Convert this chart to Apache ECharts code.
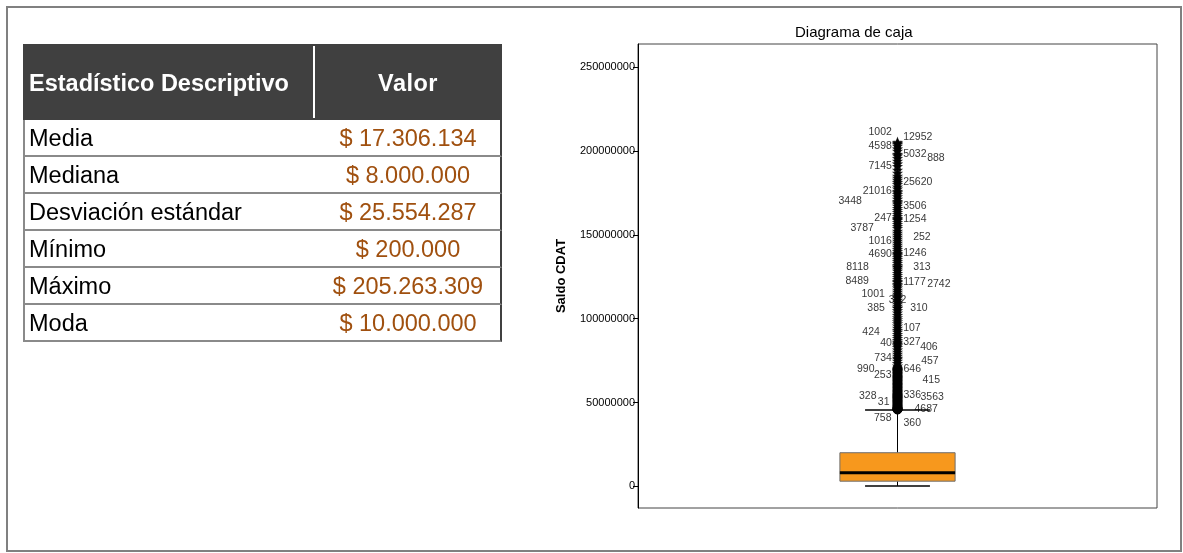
<!DOCTYPE html>
<html>
<head>
<meta charset="utf-8">
<title>Saldo CDAT</title>
<script src="https://cdn.jsdelivr.net/npm/echarts@6/dist/echarts.min.js"></script>
<style>
  html, body { margin: 0; padding: 0; background: #fff; }
  #page { position: relative; width: 1183px; height: 553px; overflow: hidden; font-family: "Liberation Sans", Arial, sans-serif; }
  #chart { position: absolute; left: 0; top: 0; width: 1183px; height: 553px; }
  #frame { position: absolute; left: 6px; top: 6px; width: 1172px; height: 542px; border: 2px solid #808080; pointer-events: none; }
  #stats { position: absolute; left: 23px; top: 44px; width: 479px; }
  #stats .hdr { position: relative; height: 76px; background: #404040; color: #fff; font-weight: bold; font-size: 23.5px; }
  #stats .hdr .c1 { position: absolute; left: 6px; top: 0; line-height: 78px; white-space: nowrap; }
  #stats .hdr .c2 { position: absolute; left: 291px; width: 188px; top: 0; line-height: 78px; text-align: center; letter-spacing: 0.5px; }
  #stats .hdr .sep { position: absolute; left: 290px; top: 2px; width: 2px; height: 72px; background: #fff; }
  #stats .row { position: relative; box-sizing: border-box; height: 37px; border-left: 2px solid #8a8a8a; border-right: 2px solid #404040; border-bottom: 2px solid #8a8a8a; font-size: 23.5px; }
  #stats .row .c1 { position: absolute; left: 4px; top: 0; line-height: 36px; color: #000; white-space: nowrap; }
  #stats .row .c2 { position: absolute; left: 289px; width: 188px; top: 0; line-height: 36px; text-align: center; color: #A0500F; white-space: nowrap; }
</style>
</head>
<body>
<div id="page">
  <div id="chart"></div>
  <div id="stats"></div>
  <div id="frame"></div>
</div>
<script>
// Descriptive statistics shown in the table
const statHeader = ['Estadístico Descriptivo', 'Valor'];
const statNames = ['Media', 'Mediana', 'Desviación estándar', 'Mínimo', 'Máximo', 'Moda'];
const statValues = [17306134, 8000000, 25554287, 200000, 205263309, 10000000];

// Box summary: minimum, Q1, median, Q3, upper whisker end
const categories = ['Saldo CDAT'];
const boxSummary = [200000, 3000000, 8000000, 20000000, 45500000];

// Unlabelled outlying cases
const outlierValues = [
  45800000, 46300000, 46800000, 47400000, 48000000, 48600000, 49300000, 50600000,
  51200000, 52000000, 52600000, 54800000, 55600000, 56400000, 57200000, 58000000,
  58900000, 59800000, 60600000, 61400000, 62200000, 64000000, 64800000, 65500000,
  67200000, 68000000, 68800000, 70500000,
  71800000, 73200000, 75800000, 77600000, 78800000, 80000000, 81400000, 83800000,
  84600000, 87000000, 88200000, 89400000, 90600000, 93000000, 95600000, 97000000,
  98200000, 99400000, 100600000, 102000000, 103400000, 104800000, 107400000, 108600000,
  109800000, 112400000, 113600000, 115800000, 117000000, 118400000, 119600000, 123400000,
  124600000, 125800000, 127000000, 128400000, 129600000, 131800000, 133000000, 134200000,
  135400000, 136600000, 137600000, 140200000, 141400000, 142600000, 143800000, 145000000,
  147400000, 149800000, 151000000, 152200000, 155000000, 156200000, 157400000, 158600000,
  161000000, 162200000, 163400000, 164600000, 165800000, 168400000, 169200000,
  171400000, 172800000, 174200000, 175200000, 177400000, 178600000, 180200000,
  182600000, 183800000, 185000000, 186800000, 188600000, 192400000, 194000000,
  197200000, 200000000, 201400000, 204000000
];

// Cases identified by number next to their point
const labeledCases = [
  '1002', '12952', '4598', '5032', '888', '7145', '25620', '21016', '3448', '3506',
  '247', '1254', '3787', '252', '1016', '4690', '1246', '8118', '313', '8489',
  '1177', '2742', '1001', '382', '385', '310', '424', '107', '40', '327',
  '406', '734', '457', '990', '253', '646', '415', '328', '31', '336',
  '3563', '4687', '758', '360'
];
const labeledValues = [
  205263309, 204600000, 202900000, 198100000, 195700000, 190900000, 181400000, 176000000, 170000000, 167100000,
  159900000, 159300000, 153900000, 148600000, 146200000, 138400000, 139000000, 130700000, 130700000, 122300000,
  121700000, 120500000, 114600000, 111000000, 106200000, 106200000, 91900000, 94300000, 85300000, 85900000,
  82900000, 76400000, 74600000, 69800000, 66200000, 69800000, 63200000, 53700000, 50100000, 54300000,
  53100000, 46000000, 46200000, 45900000
];

const yTickValues = [0, 50000000, 100000000, 150000000, 200000000, 250000000];

// Label placement for case numbers: side of the column, extra x / y shift in px
const labelPlacement = {
  '1002': ['left', 0, -10], '12952': ['right', 0, -6], '4598': ['left', 0, 0], '5032': ['right', 0, 0],
  '888': ['right', 24, 0], '7145': ['left', 0, 0], '25620': ['right', 0, 0], '21016': ['left', 0, 0],
  '3448': ['left', -30, 0], '3506': ['right', 0, 0], '247': ['left', 0, 0], '1254': ['right', 0, 0],
  '3787': ['left', -18, 0], '252': ['right', 10, 0], '1016': ['left', 0, 0], '4690': ['left', 0, 0],
  '1246': ['right', 0, 0], '8118': ['left', -23, 0], '313': ['right', 10, 0], '8489': ['left', -23, 0],
  '1177': ['right', 0, 0], '2742': ['right', 24, 0], '1001': ['left', -7, 0], '382': ['inside', 0, 0],
  '385': ['left', -7, 0], '310': ['right', 7, 0], '424': ['left', -12, 0], '107': ['right', 0, 0],
  '40': ['left', 0, 0], '327': ['right', 0, 0], '406': ['right', 17, 0], '734': ['left', 0, 0],
  '457': ['right', 18, 0], '990': ['left', -17, 0], '253': ['left', 0, 0], '646': ['right', 0, 0],
  '415': ['right', 19, 0], '328': ['left', -15, 0], '31': ['left', -2, 0], '336': ['right', 0, 0],
  '3563': ['right', 17, 0], '4687': ['right', 11, 0], '758': ['left', 0, 9], '360': ['right', 0, 14]
};

// ---------- table ----------
function money(v) {
  return '$ ' + String(v).replace(/\B(?=(\d{3})+(?!\d))/g, '.');
}
(function buildTable() {
  const host = document.getElementById('stats');
  let html = '<div class="hdr"><div class="c1">' + statHeader[0] + '</div><div class="sep"></div><div class="c2">' + statHeader[1] + '</div></div>';
  statNames.forEach(function (name, i) {
    html += '<div class="row"><div class="c1">' + name + '</div><div class="c2">' + money(statValues[i]) + '</div></div>';
  });
  host.innerHTML = html;
})();

// ---------- box plot ----------
const q1 = boxSummary[1], q3 = boxSummary[3];
const extremeFence = q3 + 3 * (q3 - q1);
const STAR = 'path://M0,-10L2.6,-3.6L9.5,-3.1L4.2,1.4L5.9,8.1L0,4.4L-5.9,8.1L-4.2,1.4L-9.5,-3.1L-2.6,-3.6Z';

// extremes drawn as stars, other outliers as round dots
function pointStyle(v) {
  return v > extremeFence
    ? { symbol: STAR, symbolSize: 8, itemStyle: { color: '#000', borderColor: '#000', borderWidth: 1.3 } }
    : { symbol: 'circle', symbolSize: 9, itemStyle: { color: '#000', borderColor: '#000', borderWidth: 1 } };
}

const plainPoints = outlierValues.map(function (v) {
  return Object.assign({ value: [0, v] }, pointStyle(v));
});
const labeledPoints = labeledValues.map(function (v, i) {
  const id = labeledCases[i];
  const p = labelPlacement[id] || ['right', 0, 0];
  return Object.assign({
    value: [0, v],
    name: id,
    label: { position: p[0], distance: 1 }
  }, pointStyle(v));
});

const chart = echarts.init(document.getElementById('chart'), null, { renderer: 'canvas' });
chart.setOption({
  animation: false,
  backgroundColor: '#fff',
  textStyle: { fontFamily: 'Liberation Sans, Arial, sans-serif' },
  title: {
    text: 'Diagrama de caja',
    left: 790, top: 20,
    textStyle: { fontSize: 15, fontWeight: 'normal', color: '#000', fontFamily: 'Liberation Sans, Arial, sans-serif' }
  },
  grid: {
    left: 638, top: 44, width: 519, height: 464,
    show: true, borderColor: '#444', borderWidth: 1,
    outerBoundsMode: 'none'
  },
  xAxis: {
    type: 'category', data: categories,
    axisLine: { show: false }, axisTick: { show: false }, axisLabel: { show: false },
    splitLine: { show: false }
  },
  yAxis: {
    type: 'value', min: -13000000, max: 264000000,
    name: 'Saldo CDAT', nameLocation: 'middle', nameGap: 70,
    nameTextStyle: { fontWeight: 'bold', fontSize: 13, color: '#000' },
    axisLine: { show: true, lineStyle: { color: '#000', width: 1 } },
    axisTick: { show: true, length: 5, customValues: yTickValues, lineStyle: { color: '#000', width: 1 } },
    axisLabel: { customValues: yTickValues, fontSize: 11, color: '#000', margin: 3, formatter: function (v) { return String(v); } },
    splitLine: { show: false }
  },
  series: [
    {
      type: 'custom',
      data: [[0].concat(boxSummary)],
      encode: { x: 0, y: [1, 2, 3, 4, 5] },
      z: 2,
      renderItem: function (params, api) {
        const x = api.value(0);
        const lo = api.coord([x, api.value(1)]);
        const b1 = api.coord([x, api.value(2)]);
        const md = api.coord([x, api.value(3)]);
        const b3 = api.coord([x, api.value(4)]);
        const hi = api.coord([x, api.value(5)]);
        const band = api.size([1, 0])[0];
        const bw = band * 0.222, cw = band * 0.125;
        const cx = lo[0];
        const ink = { stroke: '#000', lineWidth: 1 };
        return {
          type: 'group',
          children: [
            { type: 'line', shape: { x1: cx, y1: hi[1], x2: cx, y2: b3[1] }, style: ink },
            { type: 'line', shape: { x1: cx, y1: b1[1], x2: cx, y2: lo[1] }, style: ink },
            { type: 'line', shape: { x1: cx - cw / 2, y1: hi[1], x2: cx + cw / 2, y2: hi[1] }, style: { stroke: '#000', lineWidth: 1.5 } },
            { type: 'line', shape: { x1: cx - cw / 2, y1: lo[1], x2: cx + cw / 2, y2: lo[1] }, style: { stroke: '#000', lineWidth: 1.5 } },
            { type: 'rect', shape: { x: cx - bw / 2, y: b3[1], width: bw, height: b1[1] - b3[1] }, style: { fill: '#F7981D', stroke: '#6e6e6e', lineWidth: 1 } },
            { type: 'line', shape: { x1: cx - bw / 2, y1: md[1], x2: cx + bw / 2, y2: md[1] }, style: { stroke: '#000', lineWidth: 3 } }
          ]
        };
      }
    },
    {
      type: 'scatter',
      data: plainPoints,
      z: 3,
      silent: true
    },
    {
      type: 'scatter',
      data: labeledPoints,
      z: 4,
      silent: true,
      label: { show: true, formatter: '{b}', fontSize: 10.5, color: '#000', fontFamily: 'Liberation Sans, Arial, sans-serif' },
      labelLayout: function (params) {
        const p = labelPlacement[labeledCases[params.dataIndex]] || ['right', 0, 0];
        return { dx: p[1], dy: p[2], hideOverlap: false };
      }
    }
  ]
});
</script>
</body>
</html>
